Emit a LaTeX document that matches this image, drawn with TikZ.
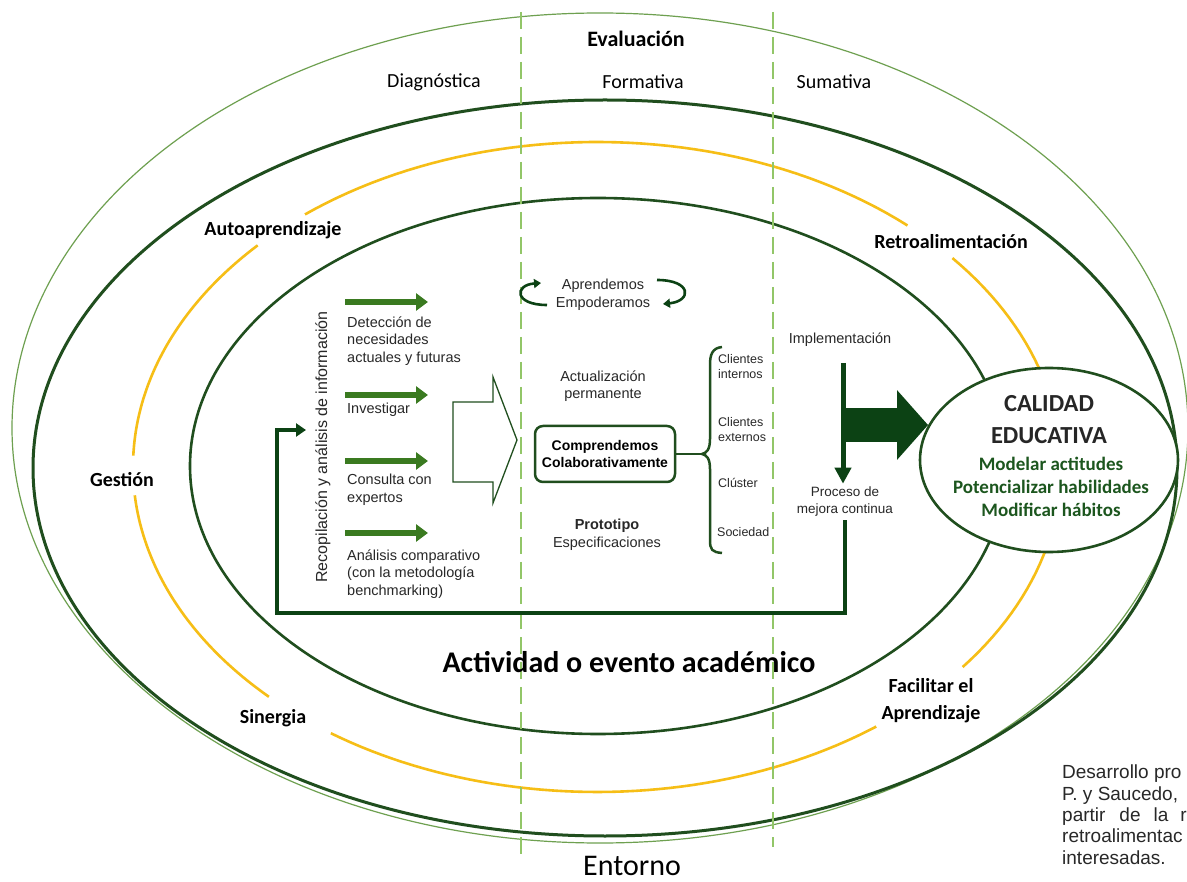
\documentclass[tikz,border=0pt]{standalone}
\usepackage{fontspec}
\setmainfont{Carlito}
\newfontfamily\arialfont{Liberation Sans}
\usetikzlibrary{arrows.meta,positioning,shapes.geometric}

\definecolor{ringgreen}{RGB}{32,78,30}
\definecolor{thingreen}{RGB}{110,160,80}
\definecolor{ringgold}{RGB}{246,190,22}
\definecolor{phasegreen}{RGB}{146,198,104}
\definecolor{stepgreen}{RGB}{58,122,32}
\definecolor{deepgreen}{RGB}{12,66,20}
\definecolor{calgreen}{RGB}{28,86,30}
\definecolor{graytext}{RGB}{40,40,40}

\begin{document}
\begin{tikzpicture}[x=1pt,y=-1pt,
  ring/.style={draw=ringgreen,line width=3pt},
  goldring/.style={draw=ringgold,line width=2.6pt},
  phase/.style={phasegreen,line width=2.5pt,dash pattern=on 17pt off 8pt},
  ringlabel/.style={font=\bfseries\fontsize{20}{27}\selectfont,align=center},
  info/.style={font=\arialfont\fontsize{14.5}{17.5}\selectfont,text=graytext,align=left,anchor=west,inner sep=0pt},
  inner/.style={font=\arialfont\fontsize{14.5}{17.5}\selectfont,text=graytext,align=center},
  client/.style={font=\arialfont\fontsize{12.5}{15}\selectfont,text=graytext,align=left,anchor=west,inner sep=0pt},
  stepin/.style={stepgreen,line width=6pt,-{Triangle[length=12pt,width=17pt]}},
  ]

\useasboundingbox (0,0) rectangle (1187,882);
\fill[white] (0,0) rectangle (1187,882);

% anillos
\draw[thingreen,line width=1.2pt] (600,428) ellipse [x radius=588, y radius=415];
\draw[ring] (605,468) ellipse [x radius=572, y radius=368];
\foreach \a/\b in {-40/38, 53/125, 135/175, 182/223, 231/312}
  \draw[goldring] plot[domain=\a:\b, samples=50] ({597+464*cos(\x)},{467+325*sin(\x)});
\draw[ring,line width=2.6pt] (598,466) ellipse [x radius=408, y radius=268];

% fases de la evaluacion
\draw[phase] (521,12) -- (521,857);
\draw[phase] (773,12) -- (773,847);

\node[font=\bfseries\fontsize{22}{24}\selectfont] (eval) at (636,39) {Evaluación};
\node[font=\fontsize{20}{22}\selectfont] (diag) at (434,82) {Diagnóstica};
\node[font=\fontsize{20}{22}\selectfont] (form) at (643,82) {Formativa};
\node[font=\fontsize{20}{22}\selectfont] (suma) at (834,82) {Sumativa};

\node[ringlabel] (auto) at (273,230) {Autoaprendizaje};
\node[ringlabel] (gest) at (122,480) {Gestión};
\node[ringlabel] (retro) at (951,242) {Retroalimentación};
\node[ringlabel] (siner) at (273,718) {Sinergia};
\node[ringlabel] (facil) at (931,701) {Facilitar el\\Aprendizaje};
\node[font=\bfseries\fontsize{30}{32}\selectfont] (activ) at (629,662) {Actividad o evento académico};
\node[font=\fontsize{30}{32}\selectfont] (entorno) at (632,866) {Entorno};

% recopilacion
\node[font=\arialfont\fontsize{16}{18}\selectfont,text=graytext,rotate=90] (recop) at (323,447) {Recopilación y análisis de información};
\foreach \y/\n in {302/a,395/b,461/c,533/d} {
  \coordinate (s\n) at (345,\y);
  \coordinate (e\n) at (428,\y);
  \draw[stepin] (s\n) -- (e\n);
}
\node[info] (detec) at (347,341) {Detección de\\necesidades\\actuales y futuras};
\node[info] (invest) at (347,410) {Investigar};
\node[info] (consul) at (347,490) {Consulta con\\expertos};
\node[info] (analis) at (347,574) {Análisis comparativo\\(con la metodología\\benchmarking)};

\draw[ringgreen,line width=1.3pt,fill=white] (453,402) -- (493,402) -- (493,377) -- (517,440)
  -- (493,503) -- (493,482) -- (453,482) -- cycle;

% centro
\node[inner] (aprende) at (603,295) {Aprendemos\\Empoderamos};
\coordinate (lcurlA) at (547,305);
\coordinate (lcurlB) at (541,283);
\coordinate (rcurlA) at (657,280);
\coordinate (rcurlB) at (663,304);
\draw[deepgreen,line width=2.6pt,-{Triangle[length=7pt,width=9pt]}] (lcurlA) .. controls (514,305) and (514,285) .. (lcurlB);
\draw[deepgreen,line width=2.6pt,-{Triangle[length=7pt,width=9pt]}] (rcurlA) .. controls (692,280) and (692,301) .. (rcurlB);

\node[inner] (actual) at (603,386) {Actualización\\permanente};
\node[draw=ringgreen,line width=2.5pt,rounded corners=8pt,font=\arialfont\bfseries\fontsize{14}{17.5}\selectfont,
  align=center,minimum width=140pt,minimum height=56pt] (compr) at (605,454) {Comprendemos\\Colaborativamente};
\node[inner] (proto) at (607,535) {\textbf{Prototipo}\\Especificaciones};

\coordinate (bracetip) at (702,454);
\draw[ringgreen,line width=2.5pt] (compr.east) -- (bracetip);
\draw[ringgreen,line width=2.5pt] (722,347) .. controls (712,348) and (710,355) .. (710,365) -- (710,439)
  .. controls (710,449) and (707,453) .. (bracetip) .. controls (707,455) and (710,459) .. (710,469)
  -- (710,540) .. controls (710,550) and (712,552) .. (722,553);

\node[client] (cint) at (718,367) {Clientes\\internos};
\node[client] (cext) at (718,430) {Clientes\\externos};
\node[client] (clus) at (718,483) {Clúster};
\node[client] (soc) at (717,532) {Sociedad};

% mejora continua
\node[inner] (impl) at (840,340) {Implementación};
\node[inner,font=\arialfont\fontsize{13.5}{17}\selectfont] (mejora) at (845,502) {Proceso de\\mejora continua};
\coordinate (implstart) at (843,363);
\draw[deepgreen,line width=5pt,-{Triangle[length=16pt,width=16pt]}] (implstart) -- (implstart |- mejora.north);

\coordinate (loopcorner) at (277,613);
\coordinate (looptip) at (306,430);
\draw[deepgreen,line width=4.5pt,-{Triangle[length=10pt,width=13pt]}] (mejora.south) |- (loopcorner) |- (looptip);

% calidad educativa
\node[ellipse,draw=ringgreen,line width=2.6pt,fill=white,inner sep=0pt,
  minimum width=258pt,minimum height=184pt] (calidad) at (1049,460) {};
\coordinate (bigstart) at (845,425);
\draw[deepgreen,line width=34pt,-{Triangle[length=31pt,width=68pt]}] (bigstart) -- (bigstart -| calidad.164);
\node[font=\bfseries\fontsize{24.5}{32}\selectfont,text=black!85,align=center] (caltitle) at (1049,420) {CALIDAD\\EDUCATIVA};
\node[font=\bfseries\fontsize{19}{23}\selectfont,text=calgreen,align=center] (calsub) at (1051,487)
  {Modelar actitudes\\Potencializar habilidades\\Modificar hábitos};

\node[font=\arialfont\fontsize{19}{21.3}\selectfont,text=graytext,align=left,anchor=north west,inner sep=0pt] (credit)
  at (1062,765) {Desarrollo pro\\P. y Saucedo,\\partir\hspace{14pt}de\hspace{13pt}la\hspace{12pt}r\\retroalimentac\\interesadas.};
\end{tikzpicture}
\end{document}
